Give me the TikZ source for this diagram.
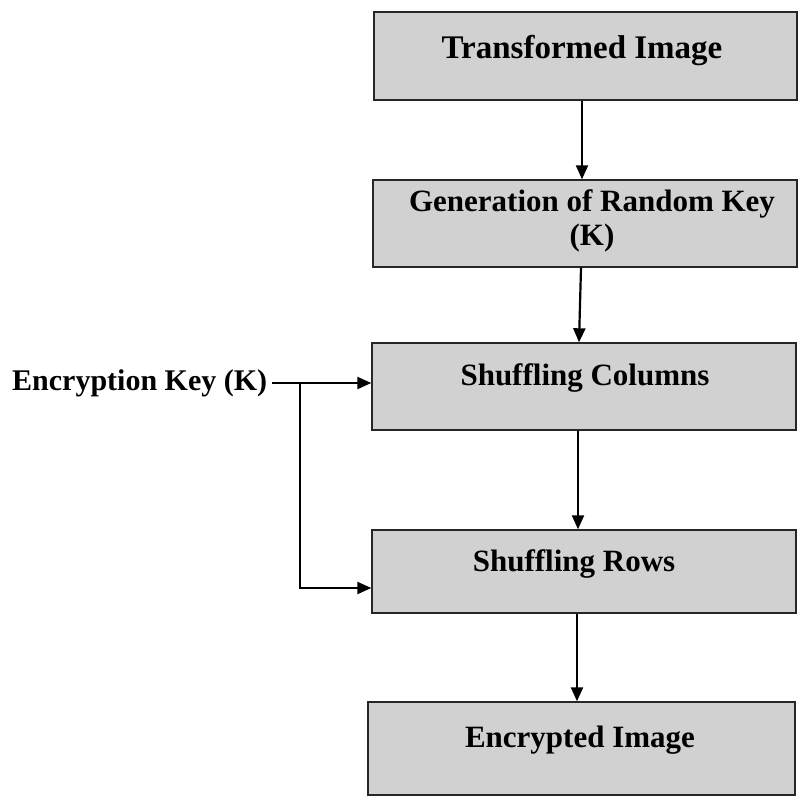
\documentclass[tikz,border=0pt]{standalone}
\usepackage{fontspec}
\setmainfont{Liberation Serif}
\usetikzlibrary{arrows.meta,positioning}
\tikzset{
  stage/.style={draw=black!85, line width=1.4pt, fill=black!18, rectangle, inner sep=0pt},
  caption/.style={font=\bfseries\fontsize{31}{36}\selectfont, align=center, inner sep=0pt},
  flow/.style={line width=2.2pt, -{Triangle[length=14pt,width=12pt]}},
  feed/.style={line width=2.2pt}
}
\begin{document}
\begin{tikzpicture}[x=1pt,y=-1pt]
  \useasboundingbox (0,0) rectangle (798,798);

  % process boxes
  \node[stage, minimum width=423pt, minimum height=88pt] (trans) at (585.5,56) {};
  \node[stage, minimum width=424pt, minimum height=87pt] (gen)   at (585,223.5) {};
  \node[stage, minimum width=424pt, minimum height=87pt] (cols)  at (584,386.5) {};
  \node[stage, minimum width=424pt, minimum height=83pt] (rows)  at (584,571.5) {};
  \node[stage, minimum width=427pt, minimum height=93pt] (enc)   at (581.5,748.5) {};

  % box captions
  \node[caption, font=\bfseries\fontsize{33}{38}\selectfont] (transT) at (582,51) {Transformed Image};
  \node[caption] (genT)   at (592,221) {Generation of Random Key\\[-2pt](K)};
  \node[caption] (colsT)  at (585,378) {Shuffling Columns};
  \node[caption] (rowsT)  at (574,564) {Shuffling Rows};
  \node[caption] (encT)   at (580,740) {Encrypted Image};

  % key input
  \node[caption, anchor=west, font=\bfseries\fontsize{30}{35}\selectfont] (key) at (12,383) {Encryption Key (K)};
  \coordinate (split) at (300,383);
  \coordinate (down)  at (300,588);

  % main flow
  \draw[flow] (trans.south -| 582,0) -- (gen.north -| 582,0);
  \draw[flow] (gen.south -| 581,0)   -- (cols.north -| 579,0);
  \draw[flow] (cols.south -| 578,0)  -- (rows.north -| 578,0);
  \draw[flow] (rows.south -| 577,0)  -- (enc.north -| 577,0);

  % key distribution
  \draw[feed] (key.east) ++(5,0) -- (split);
  \draw[flow] (split) -- (cols.west |- split);
  \draw[feed, line cap=rect] (split) -- (down);
  \draw[flow] (down) -- (rows.west |- down);
\end{tikzpicture}
\end{document}
